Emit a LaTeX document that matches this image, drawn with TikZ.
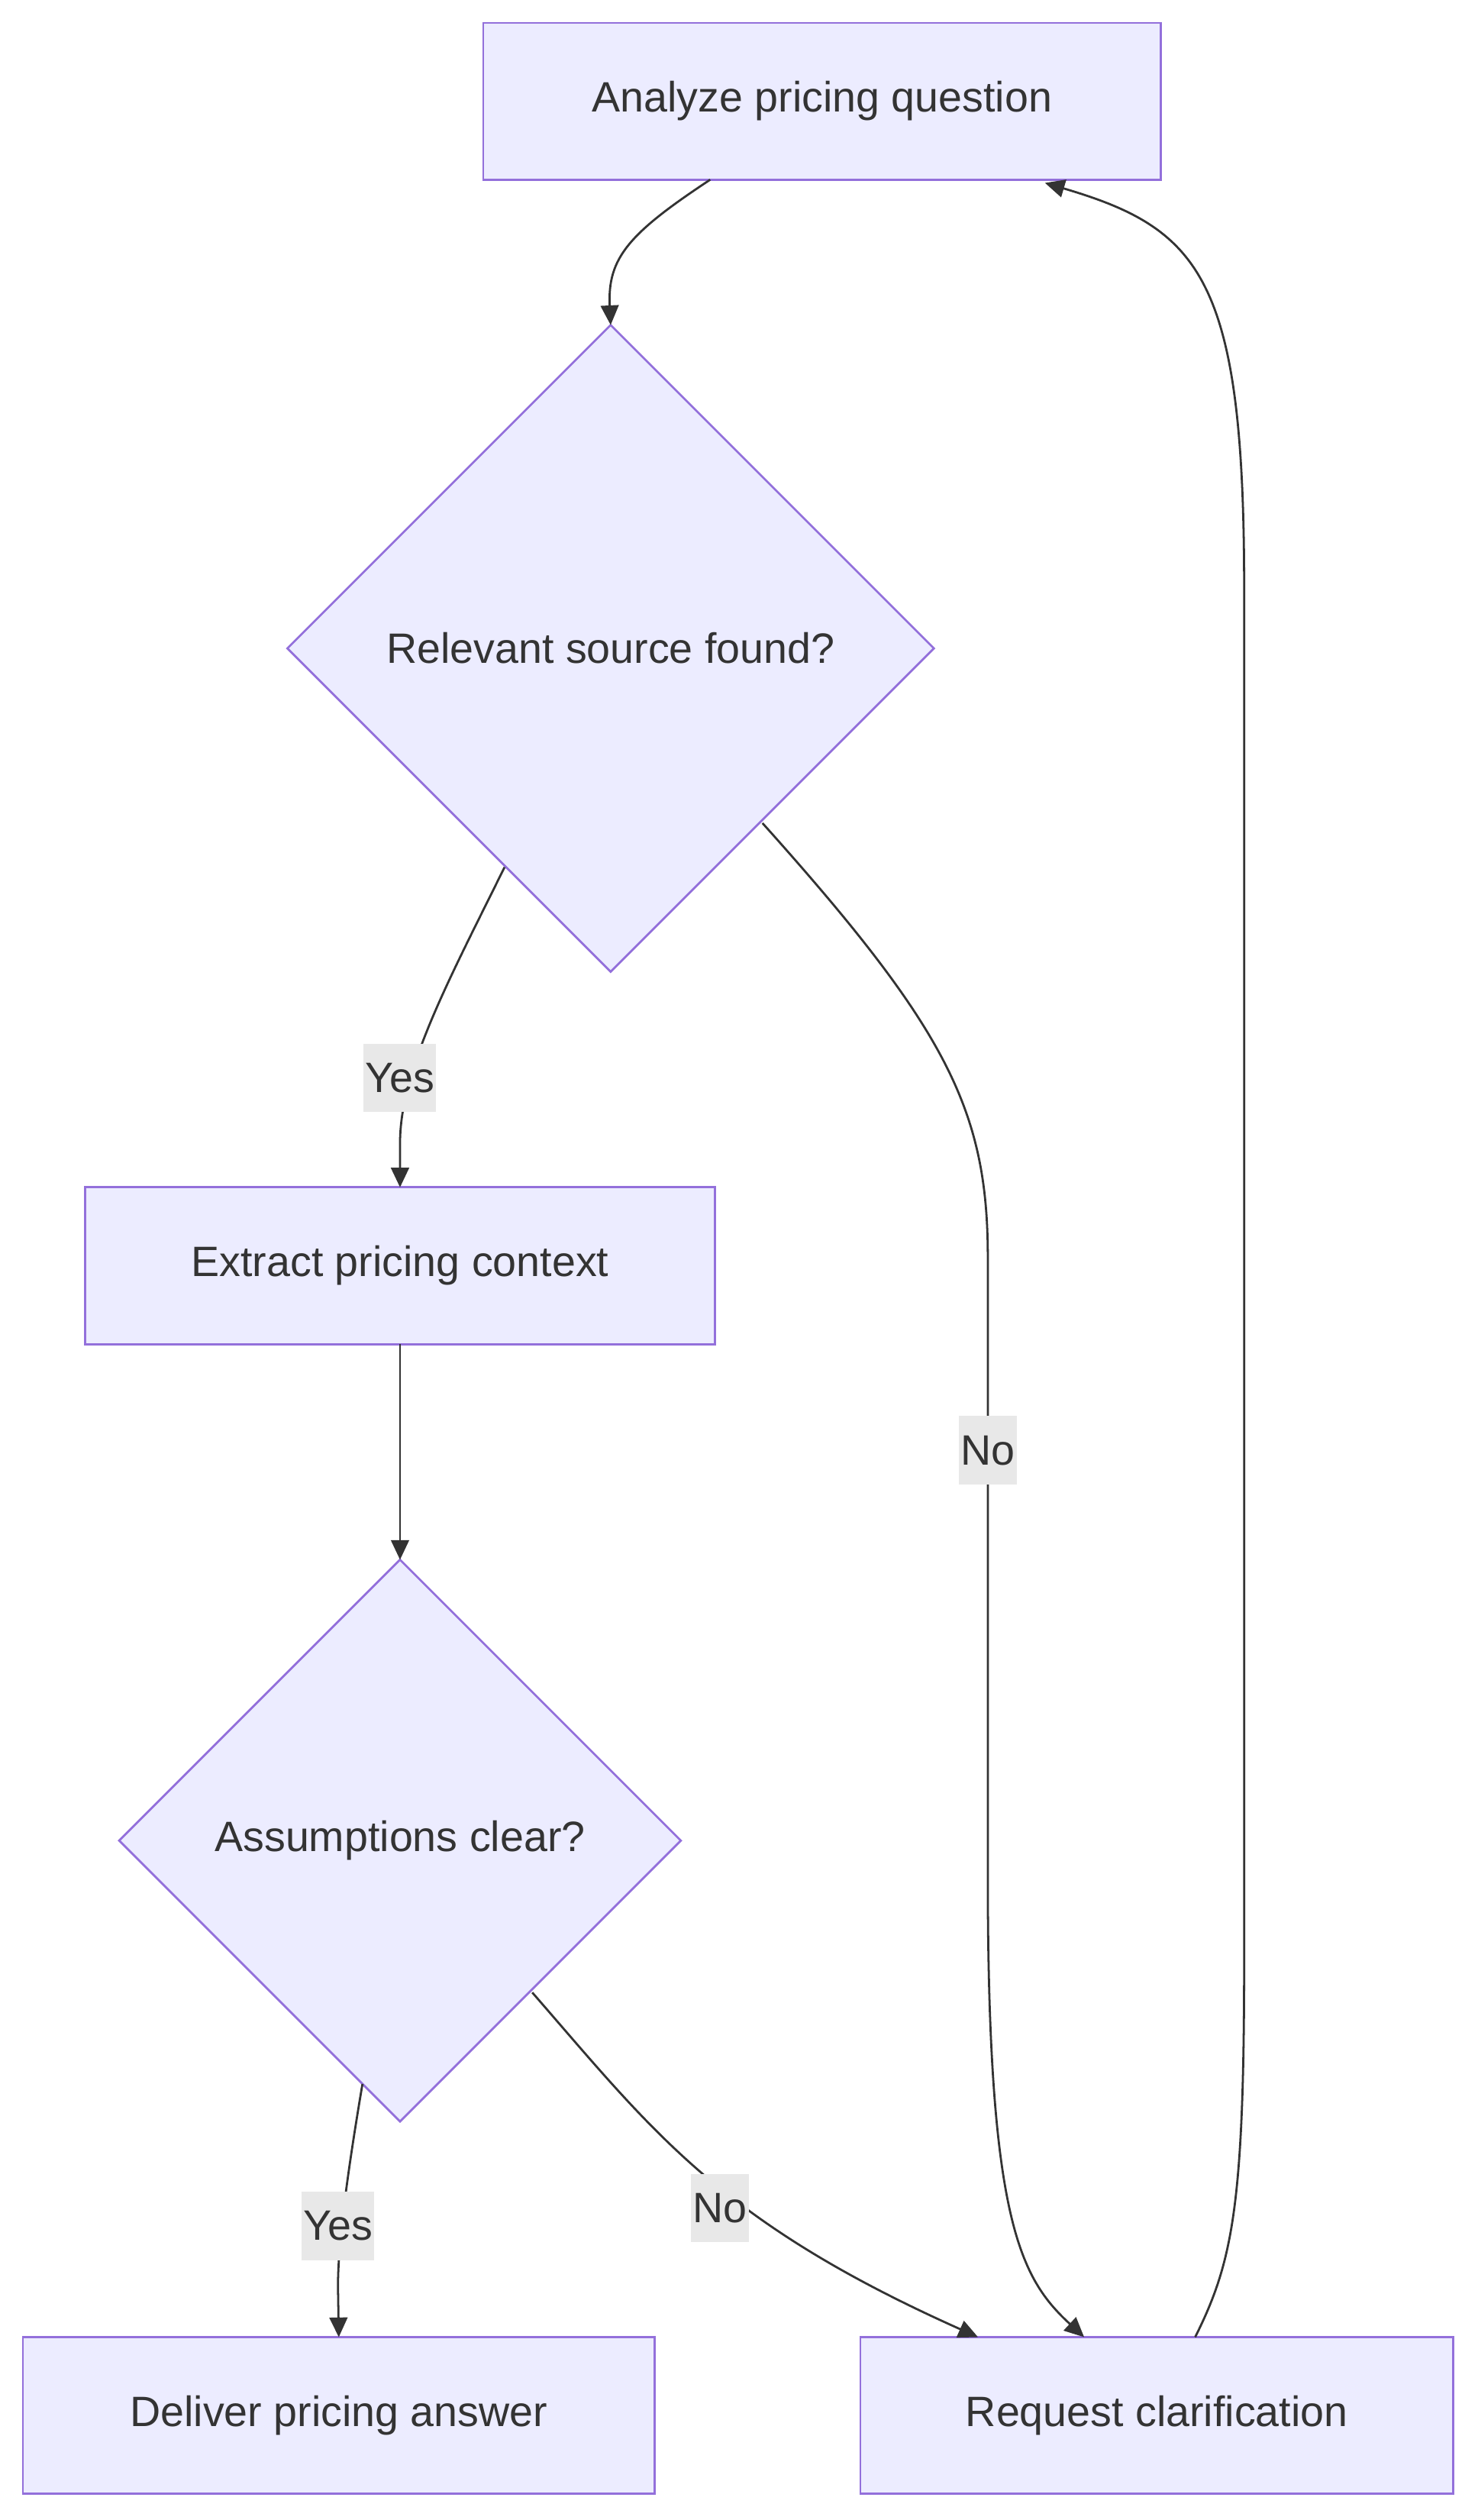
\documentclass[tikz,border=0pt]{standalone}
\usepackage{fontspec}
\setmainfont{Liberation Sans}
\usetikzlibrary{shapes.geometric,arrows.meta}
\definecolor{nf}{HTML}{ECECFF}\definecolor{ns}{HTML}{9370DB}
\definecolor{tx}{HTML}{333333}\definecolor{lb}{HTML}{E8E8E8}
\begin{document}
\begin{tikzpicture}[x=1pt,y=-1pt,
 box/.style={draw=ns,fill=nf,line width=1.3pt,text=tx,font=\fontsize{26}{30}\selectfont,inner sep=0,outer sep=0},
 lab/.style={fill=lb,text=tx,font=\fontsize{26}{30}\selectfont,inner sep=1pt,minimum height=42,minimum width=0},
 ed/.style={draw=tx,line width=1.3pt,-{Triangle[length=12pt,width=11pt]}}]
\useasboundingbox[fill=white](0,0) rectangle (905,1543);
\node[box,minimum width=415,minimum height=96] (A) at (503.5,62) {Analyze pricing question};
\node[box,diamond,minimum width=396,minimum height=396] (B) at (374,397) {Relevant source found?};
\node[box,minimum width=386,minimum height=96] (C) at (245,775) {Extract pricing context};
\node[box,diamond,minimum width=344,minimum height=344] (D) at (245,1127) {Assumptions clear?};
\node[box,minimum width=387,minimum height=96] (E) at (207.5,1479) {Deliver pricing answer};
\node[box,minimum width=363,minimum height=96] (F) at (708.5,1479) {Request clarification};
\coordinate (a1) at (435,110);
\draw[ed] (a1) .. controls (385,143) and (372,158) .. (B.north);
\draw[ed] (309,531) .. controls (275,600) and (245,655) .. (245,700) -- (C.north);
\node[lab] at (245,660) {Yes};
\draw[ed] (467,504) .. controls (580,630) and (605,680) .. (605,770) -- (605,1150) .. controls (605,1360) and (625,1395) .. (664,1431);
\node[lab] at (605,888) {No};
\draw[ed] (C.south) -- (D.north);
\draw[ed] (222,1276) .. controls (212,1335) and (207,1375) .. (207,1400) -- (E.north);
\node[lab] at (207,1363) {Yes};
\draw[ed] (326,1220) .. controls (400,1305) and (440,1360) .. (599,1431);
\node[lab] at (441,1352) {No};
\draw[ed] (732,1431) .. controls (755,1385) and (762,1350) .. (762,1200) -- (762,360) .. controls (762,170) and (735,140) .. (640,112);
\end{tikzpicture}
\end{document}
